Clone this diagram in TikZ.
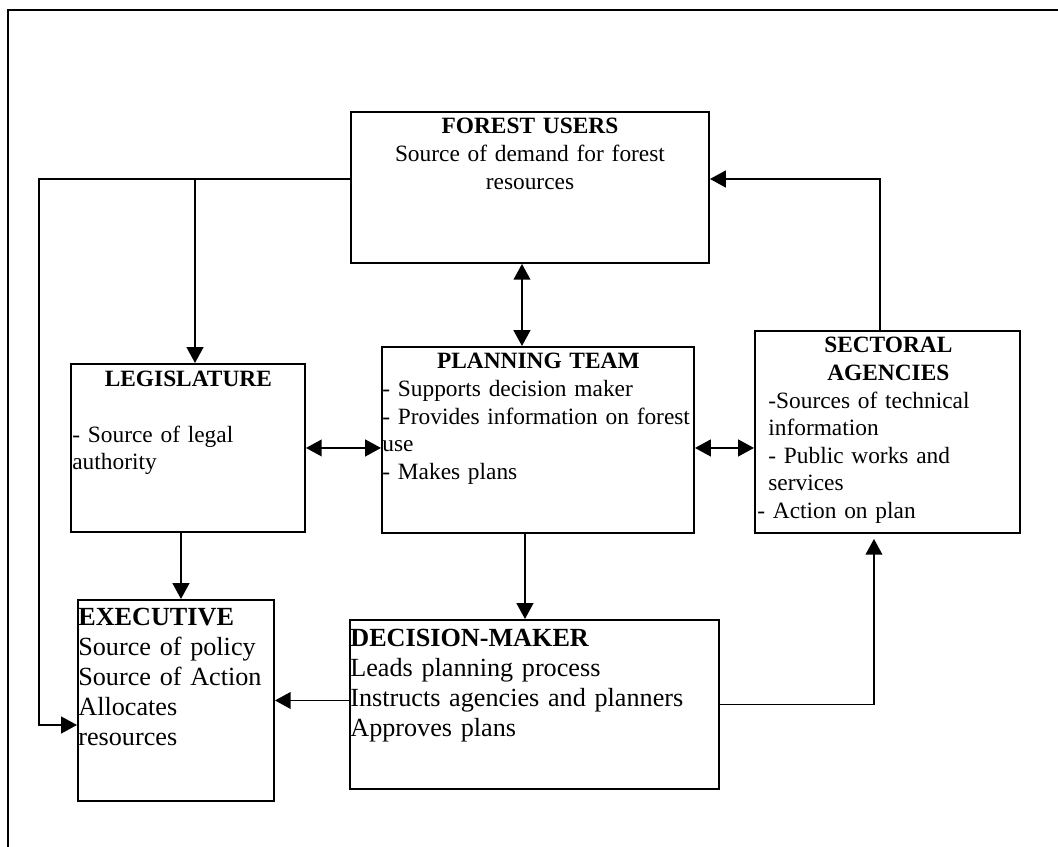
\documentclass[tikz,border=0pt]{standalone}
\usepackage{fontspec}
\setmainfont{Liberation Serif}
\usetikzlibrary{arrows.meta}
\newdimen\px \px=0.02cm

\begin{document}
\begin{tikzpicture}[x=0.02cm, y=-0.02cm,
    panel/.style={draw, line width=1.1pt, anchor=north west, inner sep=0pt},
    txt/.style={inner sep=0pt, anchor=base west, font={\fontsize{13.3}{15.7}\selectfont}},
    bigtxt/.style={inner sep=0pt, anchor=base west, font={\fontsize{14.9}{17.2}\selectfont}},
    link/.style={line width=1.1pt, -{Triangle[length=9pt, width=9.5pt]}},
    duplex/.style={line width=1.1pt, {Triangle[length=9pt, width=9.5pt]}-{Triangle[length=9pt, width=9.5pt]}}]
\useasboundingbox (0,0) rectangle (1058,847);
\draw[line width=1.4pt] (8,847) -- (8,10) -- (1058,10);

% boxes
\node[panel, minimum width=358\px, minimum height=151\px] (users) at (350,111) {};
\node[panel, minimum width=312\px, minimum height=186\px] (team) at (381,346) {};
\node[panel, minimum width=234\px, minimum height=168\px] (legis) at (70,363) {};
\node[panel, minimum width=265\px, minimum height=202\px] (sector) at (754,330) {};
\node[panel, minimum width=196\px, minimum height=201\px] (exec) at (77,599) {};
\node[panel, minimum width=369\px, minimum height=169\px] (dm) at (349,619) {};

% texts
\node[txt, anchor=base, text width=358\px, align=center] (usersText) at ([yshift=-23\px]users.north)
    {\textbf{FOREST USERS}\\Source of demand for forest\\resources};
\node[txt, text width=312\px] (teamText) at ([xshift=1\px, yshift=-23\px]team.north west)
    {{\centering\textbf{PLANNING TEAM}\par}\raggedright - Supports decision maker\\- Provides information on forest\\use\\- Makes plans};
\node[txt, text width=232\px] (legisText) at ([xshift=2\px, yshift=-24\px]legis.north west)
    {{\centering\textbf{LEGISLATURE}\par}\raggedright\mbox{}\\- Source of legal\\authority};
\node[txt, text width=262\px] (sectorText) at ([xshift=3\px, yshift=-23\px]sector.north west)
    {{\centering\textbf{SECTORAL}\\\textbf{AGENCIES}\par}\raggedright\hspace*{11\px}-Sources of technical\\\hspace*{11\px}information\\\hspace*{11\px}- Public works and\\\hspace*{11\px}services\\- Action on plan};
\node[bigtxt, text width=194\px] (execText) at ([xshift=1\px, yshift=-26\px]exec.north west)
    {\raggedright\textbf{EXECUTIVE}\\Source of policy\\Source of Action\\Allocates\\resources};
\node[bigtxt, text width=367\px] (dmText) at ([xshift=1\px, yshift=-27\px]dm.north west)
    {\raggedright\textbf{DECISION-MAKER}\\Leads planning process\\Instructs agencies and planners\\Approves plans};

% connectors
\coordinate (railtop) at (39,179);
\coordinate (railbot) at (39,725);
\coordinate (legisdrop) at (195,179);
\draw[link] (users.west |- railtop) -- (railtop) -- (railbot) -- (railbot -| exec.west);
\draw[link] (legisdrop) -- (legisdrop |- legis.north);
\draw[link] ([xshift=-7\px]legis.south) -- ([xshift=-7\px]legis.south |- exec.north);
\draw[duplex] ([xshift=-8\px]users.south) -- ([xshift=-8\px]users.south |- team.north);
\draw[duplex] (legis.east) -- (legis.east -| team.west);
\draw[duplex] (team.east |- legis.east) -- (sector.west |- legis.east);
\draw[link] ([xshift=-13\px]team.south) -- ([xshift=-13\px]team.south |- dm.north);
\draw[link] (dm.west |- exec.east) -- (exec.east);
\draw[link] (dm.east) -| ([xshift=-13.5\px, yshift=-5\px]sector.south);
\draw[link] ([xshift=-7.5\px]sector.north) |- (users.east |- railtop);
\end{tikzpicture}
\end{document}
